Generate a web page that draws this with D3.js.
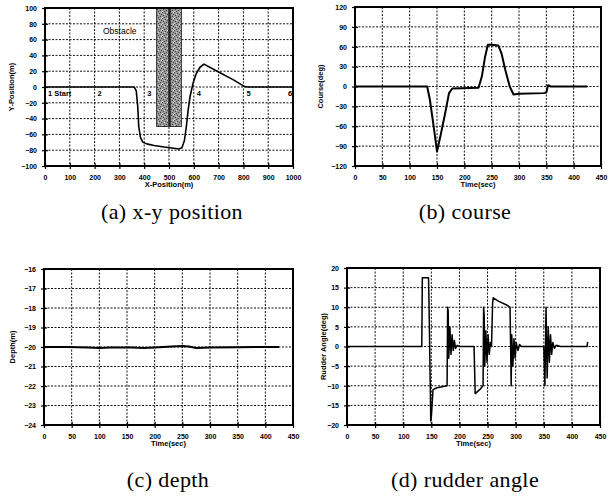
<!DOCTYPE html>
<html>
<head>
<meta charset="utf-8">
<script src="https://cdn.jsdelivr.net/npm/d3@7"></script>
<style>
  body { margin: 0; background: #fff; }
  svg { display: block; }
  .tick text { font-family: "Liberation Sans", Arial, sans-serif; font-size: 7px; font-weight: bold; }
  .ttl { font-family: "Liberation Sans", Arial, sans-serif; font-size: 7.5px; font-weight: bold; }
  .cap { font-family: "Liberation Serif", "DejaVu Serif", serif; font-size: 22px; letter-spacing: 0.4px; }
</style>
</head>
<body>
<script>
// (a) x-y position
const posX = [0, 360, 368, 374, 378, 385, 395, 410, 440, 480, 520, 540, 552, 562, 570, 577, 585, 597, 610, 625, 641, 700, 760, 805, 820, 1000];
const posY = [0, 0, -5, -25, -50, -64, -70, -72, -74, -76, -77.5, -78.5, -77, -68, -50, -30, -12, 5, 17, 25, 29, 19, 9, 0.5, 0, 0];
const wpX = [0, 200, 400, 600, 800, 1000];
const wpLabel = ["1 Start", "2", "3", "4", "5", "6"];
const obstacleX = [450, 550];
const obstacleY = [-50, 100];

// (b) course
const courseT = [0, 132, 137, 143, 150, 157, 165, 172, 178, 226, 232, 238, 243, 250, 262, 268, 275, 283, 290, 300, 345, 350, 353, 358, 425];
const courseV = [0, 0, -20, -55, -98, -72, -40, -10, -3, -2, 15, 45, 63, 63, 62, 50, 25, 0, -12, -11, -10, -9, 2, 0, 0];

// (c) depth
const depthT = [0, 40, 80, 100, 120, 160, 180, 200, 230, 250, 262, 275, 300, 350, 400, 425];
const depthV = [-20, -20, -20.03, -20.05, -20.03, -20.02, -20.05, -20.02, -19.98, -19.95, -19.97, -20.05, -20.03, -20.01, -20, -20];

// (d) rudder angle
const rudderT = [0, 133, 134, 145, 146, 149, 150, 153, 160, 178, 179, 180, 181, 183, 185, 187, 189, 191, 193, 196, 200,
  226, 228, 236, 242, 243, 244, 245, 247, 249, 251, 253, 255, 257, 259, 260, 270, 285, 290, 291, 292, 293, 295, 297, 299, 301, 304, 307, 310,
  350, 352, 354, 356, 358, 360, 362, 364, 366, 369, 372, 380, 427, 428];
const rudderV = [0, 0, 17.5, 17.5, 10, -19, -18, -11, -10.5, -10, 10, 9, -3, 5, -2, 3, -1, 1.5, -0.5, 0.3, 0,
  0, -12, -11, -10, 10, 8, -5, 4, -4, 3, -2, 1, 0, 11, 12.4, 11.5, 10.5, 10, 0, -10, 3, -5, 2, -3, 1, -1, 0.5, 0,
  0, -10, 10, -8, 5, -4, 3, -2, 1, -0.5, 0.3, 0, 0, 1.2];

const timeTicks = d3.range(0, 451, 50);

const svg = d3.select("body").append("svg")
  .attr("width", 616)
  .attr("height", 497);

// stipple for the obstacle
const pat = svg.append("defs").append("pattern")
  .attr("id", "stip").attr("patternUnits", "userSpaceOnUse")
  .attr("width", 6).attr("height", 6);
pat.append("rect").attr("width", 6).attr("height", 6).attr("fill", "#9a9a9a");
[[0, 0], [3, 1], [1, 3], [4, 4], [2, 5], [5, 2]].forEach(p => {
  pat.append("rect").attr("x", p[0]).attr("y", p[1]).attr("width", 1).attr("height", 1).attr("fill", "#444");
});
[[2, 2], [5, 0], [0, 5]].forEach(p => {
  pat.append("rect").attr("x", p[0]).attr("y", p[1]).attr("width", 1).attr("height", 1).attr("fill", "#ddd");
});

function panel(o) {
  const g = svg.append("g");
  const x = d3.scaleLinear().domain(o.xd).range([o.l, o.r]);
  const y = d3.scaleLinear().domain(o.yd).range([o.b, o.t]);

  // grid
  g.append("g").selectAll("line").data(o.xt.slice(1, -1)).join("line")
    .attr("x1", d => x(d)).attr("x2", d => x(d)).attr("y1", o.t).attr("y2", o.b)
    .attr("stroke", "#111").attr("stroke-width", 1).attr("stroke-dasharray", "2,1.5");
  g.append("g").selectAll("line").data(o.yt.slice(1, -1)).join("line")
    .attr("x1", o.l).attr("x2", o.r).attr("y1", d => y(d)).attr("y2", d => y(d))
    .attr("stroke", "#111").attr("stroke-width", 1).attr("stroke-dasharray", "2,1.5");

  if (o.extra) o.extra(g, x, y);

  // axes
  const xa = g.append("g").attr("transform", `translate(0,${o.b})`)
    .call(d3.axisBottom(x).tickValues(o.xt).tickSize(3).tickPadding(6).tickFormat(d3.format("d")));
  const ya = g.append("g").attr("transform", `translate(${o.l},0)`)
    .call(d3.axisLeft(y).tickValues(o.yt).tickSize(3).tickPadding(5).tickFormat(d3.format("d")));
  [xa, ya].forEach(a => {
    a.select(".domain").remove();
    a.selectAll(".tick line").attr("stroke", "#000").attr("stroke-width", 1.2);
  });
  xa.selectAll(".tick line").attr("y1", -3);
  ya.selectAll(".tick line").attr("x1", 3);

  // frame
  g.append("rect").attr("x", o.l).attr("y", o.t).attr("width", o.r - o.l).attr("height", o.b - o.t)
    .attr("fill", "none").attr("stroke", "#000").attr("stroke-width", 2);

  // data line
  const line = d3.line().x(d => x(d[0])).y(d => y(d[1]));
  g.append("path").datum(d3.zip(o.xs, o.ys))
    .attr("d", line).attr("fill", "none").attr("stroke", "#000")
    .attr("stroke-width", o.lw || 1.6).attr("stroke-linejoin", "round");

  if (o.after) o.after(g, x, y);

  g.append("text").attr("class", "ttl").attr("text-anchor", "middle")
    .attr("x", (o.l + o.r) / 2).attr("y", o.b + 21).text(o.xl);
  g.append("text").attr("class", "ttl").attr("text-anchor", "middle")
    .attr("transform", `translate(${o.yx},${(o.t + o.b) / 2}) rotate(-90)`).text(o.yl);

  svg.append("text").attr("class", "cap").attr("text-anchor", "middle")
    .attr("x", o.cx).attr("y", o.cy).text(o.cap);
}

panel({
  l: 45, r: 293, t: 8, b: 166,
  xd: [0, 1000], yd: [-100, 100],
  xt: d3.range(0, 1001, 100), yt: d3.range(-100, 101, 20),
  xs: posX, ys: posY,
  xl: "X-Position(m)", yl: "Y-Position(m)", yx: 14,
  cap: "(a) x-y position", cx: 172, cy: 219,
  extra: (g, x, y) => {
    g.append("rect")
      .attr("x", x(obstacleX[0])).attr("y", y(obstacleY[1]))
      .attr("width", x(obstacleX[1]) - x(obstacleX[0]))
      .attr("height", y(obstacleY[0]) - y(obstacleY[1]))
      .attr("fill", "url(#stip)").attr("stroke", "#333").attr("stroke-width", 1);
    g.append("rect")
      .attr("x", x(497)).attr("y", y(obstacleY[1]))
      .attr("width", x(507) - x(497))
      .attr("height", y(obstacleY[0]) - y(obstacleY[1]))
      .attr("fill", "#222");
    g.append("text").attr("class", "ttl").style("font-size", "8.5px").style("font-weight", "normal")
      .attr("x", 103).attr("y", 34).text("Obstacle");
  },
  after: (g, x, y) => {
    g.selectAll(".wp").data(wpX).join("text").attr("class", "ttl")
      .attr("x", (d, i) => x(d) + (i === 5 ? -5 : 3)).attr("y", y(0) + 9)
      .text((d, i) => wpLabel[i]);
  }
});

panel({
  l: 355, r: 601, t: 7, b: 166,
  xd: [0, 450], yd: [-120, 120],
  xt: timeTicks, yt: d3.range(-120, 121, 30),
  xs: courseT, ys: courseV, lw: 2,
  xl: "Time(sec)", yl: "Course(deg)", yx: 323,
  cap: "(b) course", cx: 465, cy: 219
});

panel({
  l: 44, r: 293, t: 269, b: 425,
  xd: [0, 450], yd: [-24, -16],
  xt: timeTicks, yt: d3.range(-24, -15, 1),
  xs: depthT, ys: depthV, lw: 2,
  xl: "Time(sec)", yl: "Depth(m)", yx: 15,
  cap: "(c) depth", cx: 168, cy: 487
});

panel({
  l: 347, r: 600, t: 268, b: 425,
  xd: [0, 450], yd: [-20, 20],
  xt: timeTicks, yt: d3.range(-20, 21, 5),
  xs: rudderT, ys: rudderV, lw: 1.5,
  xl: "Time(sec)", yl: "Rudder Angle(deg)", yx: 326,
  cap: "(d) rudder angle", cx: 465, cy: 487
});
</script>
</body>
</html>
